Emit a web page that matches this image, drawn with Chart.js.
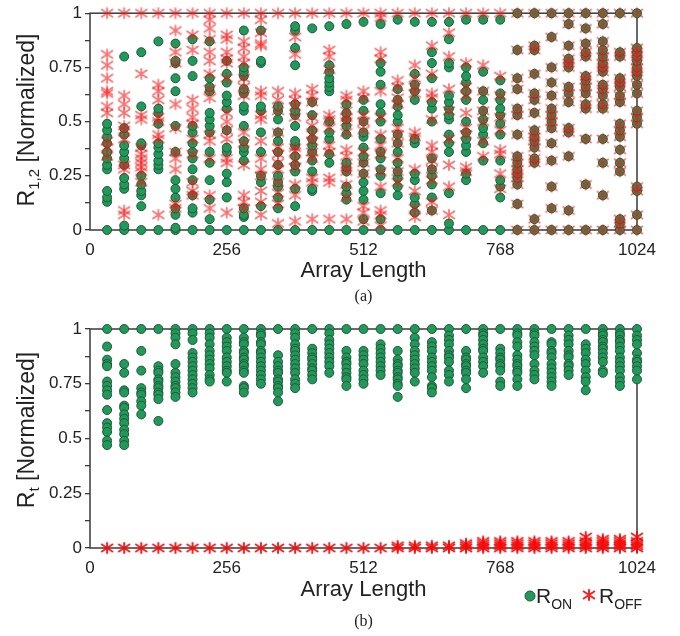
<!DOCTYPE html>
<html>
<head>
<meta charset="utf-8">
<script src="https://cdn.jsdelivr.net/npm/chart.js"></script>
<style>
  html, body { margin: 0; padding: 0; background: #fff; }
  #wrap { position: relative; width: 680px; height: 636px; }
  canvas { position: absolute; left: 0; }
  #panelA { top: 0; }
  #panelB { top: 310px; }
</style>
</head>
<body>
<div id="wrap">
  <canvas id="panelA" width="680" height="310"></canvas>
  <canvas id="panelB" width="680" height="326"></canvas>
</div>
<script>
(function() {
	"use strict";

	// array lengths (x positions of the columns)
	var arrayLengths = [32, 64, 96, 128, 160, 192, 224, 256, 288, 320, 352, 384, 416, 448, 480, 512,
		544, 576, 608, 640, 672, 704, 736, 768, 800, 832, 864, 896, 928, 960, 992, 1024];
	var xTickValues = [0, 256, 512, 768, 1024];
	var yTickMarks = [0, 0.125, 0.25, 0.375, 0.5, 0.625, 0.75, 0.875, 1];
	var yTickLabels = [0, 0.25, 0.5, 0.75, 1];

	// panel (a): R1,2, one list per array length
	var ronA = [
		[0, 0.13, 0.15, 0.18, 0.28, 0.30, 0.33, 0.36, 0.40, 0.43, 0.46, 0.49],
		[0, 0.02, 0.19, 0.21, 0.24, 0.30, 0.33, 0.36, 0.39, 0.44, 0.47, 0.80],
		[0, 0.11, 0.16, 0.18, 0.21, 0.25, 0.39, 0.40, 0.57, 0.82],
		[0, 0.28, 0.30, 0.32, 0.35, 0.38, 0.40, 0.49, 0.54, 0.56, 0.87],
		[0, 0.01, 0.07, 0.10, 0.15, 0.19, 0.23, 0.36, 0.48, 0.64, 0.70, 0.77, 0.78, 0.86],
		[0, 0.08, 0.10, 0.16, 0.23, 0.28, 0.33, 0.36, 0.40, 0.45, 0.48, 0.71, 0.78, 0.88],
		[0, 0.05, 0.14, 0.23, 0.31, 0.36, 0.45, 0.48, 0.51, 0.54, 0.64, 0.66, 0.70, 0.87],
		[0, 0.15, 0.22, 0.26, 0.36, 0.38, 0.46, 0.56, 0.59, 0.62, 0.68, 0.72, 0.78],
		[0, 0.06, 0.07, 0.10, 0.32, 0.36, 0.38, 0.41, 0.48, 0.55, 0.57, 0.63, 0.65, 0.71, 0.73, 0.75, 0.92],
		[0, 0.11, 0.22, 0.25, 0.36, 0.45, 0.55, 0.57, 0.77, 0.78, 0.92],
		[0, 0.10, 0.15, 0.20, 0.22, 0.25, 0.30, 0.36, 0.41, 0.45, 0.51, 0.55, 0.57],
		[0, 0.11, 0.19, 0.27, 0.30, 0.34, 0.39, 0.41, 0.48, 0.53, 0.55, 0.58, 0.76, 0.84, 0.92, 0.94],
		[0, 0.18, 0.19, 0.27, 0.32, 0.36, 0.39, 0.42, 0.46, 0.53, 0.59, 0.93],
		[0, 0.31, 0.35, 0.42, 0.45, 0.50, 0.64, 0.66, 0.68, 0.70, 0.73, 0.76, 0.94],
		[0, 0.14, 0.17, 0.20, 0.27, 0.29, 0.31, 0.44, 0.48, 0.51, 0.54, 0.58, 0.95],
		[0, 0.05, 0.14, 0.18, 0.22, 0.26, 0.31, 0.34, 0.38, 0.43, 0.45, 0.50, 0.55, 0.60, 0.96],
		[0, 0.05, 0.17, 0.25, 0.28, 0.33, 0.36, 0.42, 0.50, 0.54, 0.58, 0.67, 0.73, 0.77, 0.95],
		[0, 0.16, 0.20, 0.24, 0.27, 0.31, 0.36, 0.40, 0.44, 0.50, 0.53, 0.57, 0.60, 0.65, 0.97],
		[0, 0.08, 0.12, 0.15, 0.23, 0.26, 0.40, 0.42, 0.60, 0.64, 0.67, 0.72, 0.96],
		[0, 0.09, 0.15, 0.21, 0.25, 0.28, 0.33, 0.50, 0.56, 0.59, 0.70, 0.77, 0.82, 0.96],
		[0, 0.03, 0.17, 0.36, 0.40, 0.44, 0.51, 0.53, 0.56, 0.59, 0.62, 0.75, 0.77, 0.88, 0.96],
		[0, 0.23, 0.26, 0.36, 0.39, 0.42, 0.45, 0.50, 0.60, 0.64, 0.68, 0.71, 0.75, 0.97],
		[0, 0.32, 0.40, 0.44, 0.47, 0.51, 0.55, 0.60, 0.64, 0.73, 0.97],
		[0, 0.15, 0.20, 0.23, 0.32, 0.44, 0.49, 0.53, 0.56, 0.60, 0.63, 0.69, 0.97],
		[0, 0.12, 0.21, 0.24, 0.26, 0.28, 0.31, 0.34, 0.44, 0.53, 0.56, 0.65, 0.70, 0.83, 1],
		[0, 0.05, 0.31, 0.33, 0.38, 0.41, 0.43, 0.46, 0.54, 0.60, 0.63, 0.72, 0.83, 0.85, 1],
		[0, 0.10, 0.20, 0.32, 0.40, 0.47, 0.50, 0.53, 0.56, 0.62, 0.68, 0.75, 0.89, 1],
		[0, 0.09, 0.34, 0.45, 0.47, 0.59, 0.63, 0.66, 0.75, 0.77, 0.79, 0.85, 0.95, 1],
		[0, 0.21, 0.42, 0.56, 0.58, 0.63, 0.66, 0.69, 0.71, 0.80, 0.82, 0.86, 0.93, 1],
		[0, 0.16, 0.31, 0.42, 0.56, 0.58, 0.62, 0.65, 0.67, 0.73, 0.75, 0.77, 0.80, 0.83, 0.87, 0.95, 1],
		[0, 0.03, 0.05, 0.27, 0.31, 0.37, 0.43, 0.46, 0.49, 0.59, 0.62, 0.66, 0.68, 0.70, 0.80, 0.82, 1],
		[0, 0.07, 0.18, 0.20, 0.49, 0.52, 0.55, 0.63, 0.67, 0.71, 0.73, 0.75, 0.78, 0.80, 0.82, 0.84, 1]
	];
	var roffA = [
		[1, 0.81, 0.76, 0.70, 0.64, 0.63, 0.57, 0.54, 0.41, 0.38, 0.34],
		[1, 0.62, 0.58, 0.54, 0.48, 0.46, 0.42, 0.30, 0.28, 0.09, 0.07],
		[1, 0.72, 0.53, 0.51, 0.38, 0.35, 0.33, 0.31, 0.29, 0.27, 0.22],
		[1, 0.67, 0.64, 0.60, 0.52, 0.50, 0.44, 0.42, 0.07],
		[1, 0.92, 0.82, 0.77, 0.58, 0.47, 0.36, 0.33, 0.28, 0.12, 0.10],
		[1, 0.90, 0.83, 0.60, 0.56, 0.52, 0.49, 0.42, 0.35, 0.22, 0.18, 0.16],
		[1, 0.97, 0.93, 0.88, 0.82, 0.78, 0.72, 0.65, 0.61, 0.44, 0.41, 0.33, 0.16, 0.10],
		[1, 0.90, 0.88, 0.82, 0.79, 0.77, 0.70, 0.54, 0.50, 0.46, 0.42, 0.33, 0.31, 0.08],
		[1, 0.87, 0.84, 0.80, 0.77, 0.70, 0.66, 0.62, 0.45, 0.40, 0.30, 0.16, 0.13, 0.10],
		[1, 0.97, 0.91, 0.86, 0.85, 0.64, 0.62, 0.53, 0.51, 0.41, 0.33, 0.28, 0.25, 0.18, 0.13, 0.07],
		[1, 0.64, 0.60, 0.55, 0.45, 0.38, 0.35, 0.31, 0.28, 0.22, 0.17, 0.12, 0.03],
		[1, 0.89, 0.81, 0.63, 0.60, 0.57, 0.52, 0.38, 0.36, 0.32, 0.29, 0.21, 0.16, 0.04],
		[1, 0.65, 0.62, 0.59, 0.52, 0.48, 0.44, 0.41, 0.36, 0.33, 0.24, 0.22, 0.05],
		[1, 0.83, 0.80, 0.74, 0.53, 0.51, 0.47, 0.39, 0.36, 0.24, 0.22, 0.05],
		[1, 0.62, 0.60, 0.55, 0.52, 0.50, 0.45, 0.37, 0.34, 0.29, 0.27, 0.21, 0.15, 0.05],
		[1, 0.64, 0.61, 0.53, 0.50, 0.46, 0.36, 0.31, 0.26, 0.11, 0.08, 0.04],
		[1, 0.98, 0.82, 0.79, 0.64, 0.52, 0.44, 0.39, 0.35, 0.27, 0.20, 0.09, 0.07, 0.02],
		[1, 0.69, 0.66, 0.61, 0.58, 0.47, 0.44, 0.40, 0.33, 0.27, 0.22],
		[1, 0.76, 0.70, 0.66, 0.63, 0.45, 0.43, 0.28, 0.18, 0.10, 0.06],
		[1, 0.85, 0.72, 0.63, 0.61, 0.51, 0.39, 0.36, 0.32, 0.28, 0.23, 0.13, 0.09],
		[1, 0.91, 0.80, 0.65, 0.55, 0.42, 0.30, 0.20, 0.07],
		[1, 0.77, 0.66, 0.62, 0.54, 0.47, 0.44, 0.29, 0.27],
		[1, 0.76, 0.64, 0.55, 0.50, 0.41, 0.34],
		[1, 0.71, 0.62, 0.52, 0.46, 0.37, 0.35, 0.26, 0.19],
		[0, 0.12, 0.21, 0.24, 0.26, 0.28, 0.31, 0.34, 0.44, 0.53, 0.56, 0.65, 0.70, 0.83, 1],
		[0, 0.05, 0.31, 0.33, 0.38, 0.41, 0.43, 0.46, 0.54, 0.60, 0.63, 0.72, 0.83, 0.85, 1],
		[0, 0.10, 0.20, 0.32, 0.40, 0.47, 0.50, 0.53, 0.56, 0.62, 0.68, 0.75, 0.89, 1],
		[0, 0.09, 0.34, 0.45, 0.47, 0.59, 0.63, 0.66, 0.75, 0.77, 0.79, 0.85, 0.95, 1],
		[0, 0.21, 0.42, 0.56, 0.58, 0.63, 0.66, 0.69, 0.71, 0.80, 0.82, 0.86, 0.93, 1],
		[0, 0.16, 0.31, 0.42, 0.56, 0.58, 0.62, 0.65, 0.67, 0.73, 0.75, 0.77, 0.80, 0.83, 0.87, 0.95, 1],
		[0, 0.03, 0.05, 0.27, 0.31, 0.37, 0.43, 0.46, 0.49, 0.59, 0.62, 0.66, 0.68, 0.70, 0.80, 0.82, 1],
		[0, 0.07, 0.18, 0.20, 0.49, 0.52, 0.55, 0.63, 0.67, 0.71, 0.73, 0.75, 0.78, 0.80, 0.82, 0.84, 1]
	];

	// panel (b): Rt
	var ronB = [
		[1, 0.92, 0.86, 0.84, 0.83, 0.76, 0.74, 0.72, 0.70, 0.63, 0.57, 0.55, 0.53, 0.49, 0.47],
		[1, 0.84, 0.80, 0.72, 0.71, 0.65, 0.64, 0.61, 0.59, 0.57, 0.54, 0.52, 0.49, 0.47],
		[1, 0.90, 0.81, 0.73, 0.71, 0.70, 0.67, 0.65, 0.61],
		[1, 0.83, 0.81, 0.80, 0.77, 0.76, 0.74, 0.73, 0.71, 0.70, 0.68, 0.58],
		[1, 0.98, 0.96, 0.93, 0.84, 0.80, 0.78, 0.76, 0.74, 0.73, 0.71, 0.69],
		[1, 0.98, 0.95, 0.89, 0.87, 0.85, 0.83, 0.81, 0.79, 0.77, 0.75, 0.73, 0.71],
		[1, 0.98, 0.96, 0.93, 0.90, 0.88, 0.86, 0.84, 0.82, 0.79, 0.77, 0.76],
		[1, 0.96, 0.94, 0.92, 0.90, 0.87, 0.85, 0.83, 0.81, 0.80, 0.76],
		[1, 0.96, 0.94, 0.93, 0.90, 0.89, 0.87, 0.86, 0.84, 0.83, 0.81, 0.80, 0.74, 0.73, 0.71],
		[1, 0.98, 0.97, 0.94, 0.93, 0.90, 0.89, 0.87, 0.85, 0.83, 0.81, 0.79, 0.77, 0.75],
		[1, 0.88, 0.85, 0.83, 0.81, 0.80, 0.77, 0.76, 0.74, 0.73, 0.71, 0.67],
		[1, 0.98, 0.96, 0.93, 0.91, 0.90, 0.88, 0.86, 0.84, 0.82, 0.80, 0.77, 0.75, 0.73],
		[1, 0.91, 0.89, 0.87, 0.86, 0.84, 0.82, 0.81, 0.79, 0.77],
		[1, 0.98, 0.95, 0.93, 0.91, 0.89, 0.87, 0.85, 0.83, 0.80],
		[1, 0.90, 0.87, 0.85, 0.84, 0.82, 0.80, 0.78, 0.77, 0.74],
		[1, 0.90, 0.88, 0.86, 0.84, 0.81, 0.79, 0.77, 0.75],
		[1, 0.93, 0.91, 0.89, 0.87, 0.85, 0.83, 0.81, 0.79],
		[1, 0.90, 0.86, 0.84, 0.83, 0.81, 0.80, 0.78, 0.77, 0.75, 0.74, 0.69],
		[1, 0.96, 0.93, 0.90, 0.88, 0.86, 0.84, 0.82, 0.80, 0.76],
		[1, 0.94, 0.92, 0.90, 0.87, 0.85, 0.83, 0.81, 0.78, 0.74, 0.73, 0.71],
		[1, 0.97, 0.95, 0.93, 0.90, 0.88, 0.87, 0.85, 0.81, 0.79, 0.76],
		[1, 0.90, 0.87, 0.86, 0.84, 0.83, 0.81, 0.80, 0.77, 0.73],
		[1, 0.98, 0.97, 0.95, 0.93, 0.91, 0.90, 0.87, 0.85, 0.83, 0.80],
		[1, 0.91, 0.89, 0.87, 0.86, 0.84, 0.83, 0.81, 0.76, 0.74],
		[1, 0.98, 0.97, 0.94, 0.92, 0.88, 0.86, 0.84, 0.83, 0.81, 0.80, 0.77, 0.74],
		[1, 0.98, 0.97, 0.94, 0.92, 0.90, 0.88, 0.84, 0.81, 0.79, 0.77],
		[1, 0.94, 0.93, 0.90, 0.89, 0.87, 0.84, 0.82, 0.80, 0.78, 0.76, 0.74],
		[1, 0.97, 0.95, 0.93, 0.90, 0.88, 0.87, 0.84, 0.83, 0.81, 0.79],
		[1, 0.93, 0.91, 0.89, 0.86, 0.84, 0.81, 0.78, 0.76, 0.72],
		[1, 0.98, 0.97, 0.95, 0.94, 0.92, 0.91, 0.89, 0.87, 0.85, 0.81, 0.80],
		[1, 0.98, 0.97, 0.95, 0.94, 0.92, 0.90, 0.87, 0.85, 0.83, 0.81, 0.78, 0.76, 0.74],
		[1, 0.97, 0.95, 0.93, 0.89, 0.86, 0.85, 0.83, 0.81, 0.77]
	];
	var roffB = [
		[0], [0], [0], [0], [0], [0], [0], [0], [0], [0], [0], [0], [0], [0], [0], [0], [0],
		[0, 0.01], [0, 0.01], [0, 0.01], [0, 0.01],
		[0, 0.01, 0.02], [0, 0.01, 0.02, 0.03], [0, 0.01, 0.02, 0.03], [0, 0.01, 0.02, 0.03],
		[0, 0.01, 0.02, 0.03], [0, 0.01, 0.02, 0.03], [0, 0.01, 0.02, 0.03],
		[0, 0.01, 0.02, 0.03, 0.05], [0, 0.01, 0.02, 0.03, 0.04], [0, 0.01, 0.02, 0.03, 0.04],
		[0, 0.01, 0.02, 0.03, 0.05]
	];

	var FONT = "'Liberation Sans', Arial, sans-serif";
	var TEXT = "#222";
	var GREEN = "#1f9a5a";
	var GREEN_EDGE = "#24563a";

	function toPoints(lists) {
		var pts = [];
		lists.forEach(function(col, i) {
			col.forEach(function(v) {
				pts.push({ x: arrayLengths[i], y: v });
			});
		});
		return pts;
	}

	// six armed asterisk used for R_OFF
	function makeStar(color, size, lw) {
		var c = document.createElement("canvas");
		c.width = size;
		c.height = size;
		var g = c.getContext("2d");
		var r = size / 2 - 0.8, cx = size / 2, cy = size / 2;
		g.strokeStyle = color;
		g.lineWidth = lw;
		g.beginPath();
		[90, 34, 146].forEach(function(a) {
			var rad = a * Math.PI / 180;
			var rr = a === 90 ? r * 0.8 : r;
			g.moveTo(cx - rr * Math.cos(rad), cy - rr * Math.sin(rad));
			g.lineTo(cx + rr * Math.cos(rad), cy + rr * Math.sin(rad));
		});
		g.stroke();
		return c;
	}

	var starA = makeStar("rgba(245, 20, 20, 0.6)", 16, 1.7);
	var starB = makeStar("rgba(245, 10, 10, 0.9)", 16, 2);

	function drawParts(ctx, parts, x, y, align) {
		var total = 0;
		parts.forEach(function(p) {
			ctx.font = p.size + "px " + FONT;
			p.w = ctx.measureText(p.t).width;
			total += p.w;
		});
		var cx = align === "center" ? x - total / 2 : x;
		ctx.textAlign = "left";
		ctx.textBaseline = "alphabetic";
		parts.forEach(function(p) {
			ctx.font = p.size + "px " + FONT;
			ctx.fillText(p.t, cx, y + (p.dy || 0));
			cx += p.w;
		});
	}

	function panelPlugin(cfg) {
		return {
			id: "panelText",
			beforeDatasetsDraw: function(chart) {
				var a = chart.chartArea, ctx = chart.ctx;
				ctx.save();
				ctx.strokeStyle = "#3a3a3a";
				ctx.lineWidth = 1.5;
				ctx.strokeRect(a.left, a.top, a.right - a.left, a.bottom - a.top);
				ctx.restore();
			},
			afterDraw: function(chart) {
				var ctx = chart.ctx, a = chart.chartArea;
				ctx.save();
				ctx.fillStyle = TEXT;
				// x title
				ctx.font = "22px " + FONT;
				ctx.textAlign = "center";
				ctx.textBaseline = "middle";
				ctx.fillText("Array Length", (a.left + a.right) / 2, cfg.xTitleY);
				// panel label
				ctx.font = "16px 'Liberation Serif', 'Times New Roman', serif";
				ctx.fillText(cfg.label, (a.left + a.right) / 2, cfg.labelY);
				// y title with subscript
				ctx.save();
				ctx.translate(34, cfg.yTitleY);
				ctx.rotate(-Math.PI / 2);
				drawParts(ctx, cfg.yTitle, 0, 0, "center");
				ctx.restore();
				// legend
				if (cfg.legend) {
					var lx = 530, ly = 286;
					ctx.beginPath();
					ctx.arc(lx, ly, 5, 0, Math.PI * 2);
					ctx.fillStyle = GREEN;
					ctx.fill();
					ctx.lineWidth = 1;
					ctx.strokeStyle = GREEN_EDGE;
					ctx.stroke();
					ctx.fillStyle = TEXT;
					drawParts(ctx, [{ t: "R", size: 21 }, { t: "ON", size: 14, dy: 6 }], 536, 293, "left");
					ctx.drawImage(starB, 589 - 8, 285 - 8);
					drawParts(ctx, [{ t: "R", size: 21 }, { t: "OFF", size: 14, dy: 6 }], 599, 293, "left");
				}
				ctx.restore();
			}
		};
	}

	function makeChart(id, ron, roff, star, cfg) {
		var ctx = document.getElementById(id).getContext("2d");
		return new Chart(ctx, {
			type: "scatter",
			data: {
				datasets: [{
					label: "R_OFF",
					data: toPoints(roff),
					pointStyle: star,
					pointRadius: 8,
					clip: false,
					order: 0
				}, {
					label: "R_ON",
					data: toPoints(ron),
					pointStyle: "circle",
					pointRadius: 4.5,
					backgroundColor: GREEN,
					borderColor: GREEN_EDGE,
					borderWidth: 1,
					clip: false,
					order: 1
				}]
			},
			options: {
				responsive: false,
				animation: false,
				events: [],
				layout: { padding: { left: 0, right: 43, top: cfg.top, bottom: 0 } },
				plugins: {
					legend: { display: false },
					tooltip: { enabled: false }
				},
				scales: {
					x: {
						type: "linear",
						min: 0,
						max: 1024,
						afterBuildTicks: function(scale) {
							scale.ticks = xTickValues.map(function(v) { return { value: v }; });
						},
						afterFit: function(scale) { scale.height = cfg.xHeight; },
						grid: { drawOnChartArea: false, drawTicks: false },
						border: { display: false },
						ticks: {
							autoSkip: false,
							maxRotation: 0,
							padding: 10,
							color: TEXT,
							font: { family: FONT, size: 17 },
							callback: function(v) { return String(v); }
						}
					},
					y: {
						type: "linear",
						min: 0,
						max: 1,
						afterBuildTicks: function(scale) {
							scale.ticks = yTickMarks.map(function(v) { return { value: v }; });
						},
						afterFit: function(scale) { scale.width = 90; },
						grid: { drawOnChartArea: false, drawTicks: true, tickLength: 5, color: "#3a3a3a", lineWidth: 1.3 },
						border: { display: false },
						ticks: {
							autoSkip: false,
							padding: 3,
							color: TEXT,
							font: { family: FONT, size: 17 },
							callback: function(v) {
								return yTickLabels.indexOf(v) >= 0 ? String(v) : "";
							}
						}
					}
				}
			},
			plugins: [panelPlugin(cfg)]
		});
	}

	document.addEventListener("DOMContentLoaded", function() {
		makeChart("panelA", ronA, roffA, starA, {
			top: 12, xHeight: 80, xTitleY: 271, label: "(a)", labelY: 297, yTitleY: 120,
			yTitle: [{ t: "R", size: 23 }, { t: "1,2", size: 15, dy: 5 }, { t: " [Normalized]", size: 23 }],
			legend: false
		});
		makeChart("panelB", ronB, roffB, starB, {
			top: 19, xHeight: 88, xTitleY: 280, label: "(b)", labelY: 312, yTitleY: 120,
			yTitle: [{ t: "R", size: 23 }, { t: "t", size: 15, dy: 5 }, { t: " [Normalized]", size: 23 }],
			legend: true
		});
	});
}) ();
</script>
</body>
</html>
